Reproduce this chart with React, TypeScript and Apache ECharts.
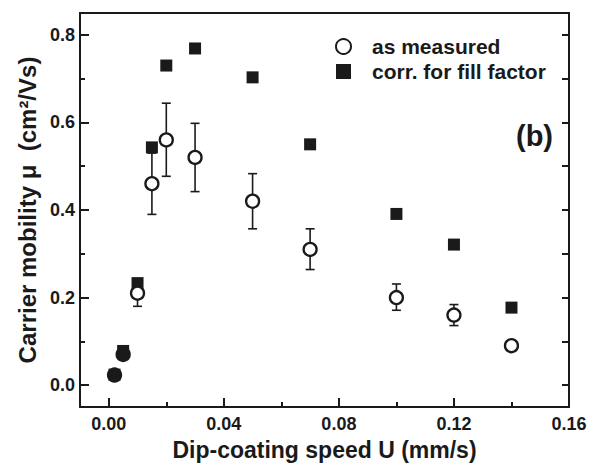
import React, { useEffect, useRef } from "react";
import * as echarts from "echarts";

const speeds = [0.002, 0.005, 0.01, 0.015, 0.02, 0.03, 0.05, 0.07, 0.1, 0.12, 0.14];
const measured = [0.023, 0.07, 0.21, 0.46, 0.56, 0.52, 0.42, 0.31, 0.2, 0.16, 0.09];
const errLow = [null, null, 0.18, 0.39, 0.477, 0.442, 0.357, 0.264, 0.171, 0.136, null];
const errHigh = [null, null, 0.24, 0.53, 0.644, 0.598, 0.483, 0.357, 0.231, 0.184, null];
const corrected = [0.024, 0.078, 0.233, 0.543, 0.73, 0.769, 0.703, 0.55, 0.391, 0.321, 0.177];
const filledMeasured = [true, true, false, false, false, false, false, false, false, false, false];

const xMajor = [0, 0.04, 0.08, 0.12, 0.16];
const xMinor = [0.02, 0.06, 0.1, 0.14];
const yMajor = [0, 0.2, 0.4, 0.6, 0.8];
const yMinor = [0.1, 0.3, 0.5, 0.7];
const yAll = [0, 0.1, 0.2, 0.3, 0.4, 0.5, 0.6, 0.7, 0.8];

const FONT = "'Liberation Sans', Arial, Helvetica, sans-serif";
const INK = "#1a1a1a";

export default function App() {
  const ref = useRef<HTMLDivElement>(null);
  useEffect(() => {
    if (!ref.current) return;
    const chart = echarts.init(ref.current, null, { renderer: "svg" });
    const xMin = -0.01, xMax = 0.16, yMin = -0.05, yMax = 0.85;
    const base = { min: xMin, max: xMax, type: "value" as const, splitLine: { show: false } };
    const ybase = { min: yMin, max: yMax, type: "value" as const, splitLine: { show: false } };
    const errData = speeds
      .map((x, i) => [x, errLow[i], errHigh[i]])
      .filter((d) => d[1] != null);
    chart.setOption({
      animation: false,
      backgroundColor: "#fff",
      grid: { left: 80, top: 13, right: 22, bottom: 59 },
      xAxis: [
        {
          ...base,
          position: "bottom",
          name: "Dip-coating speed U (mm/s)",
          nameLocation: "middle",
          nameGap: 31,
          nameTextStyle: { fontFamily: FONT, fontWeight: "bold", fontSize: 23, color: INK },
          axisLine: { show: true, onZero: false, lineStyle: { color: INK, width: 2 } },
          axisTick: { show: true, inside: true, length: 9, customValues: xMajor, lineStyle: { color: INK, width: 2 } },
          axisLabel: {
            show: true,
            customValues: xMajor,
            margin: 8,
            formatter: (v: number) => v.toFixed(2),
            fontFamily: FONT,
            fontWeight: "bold",
            fontSize: 18,
            color: INK,
          },
        },
        {
          ...base,
          position: "bottom",
          axisLine: { show: false, onZero: false },
          axisTick: { show: true, inside: true, length: 5, customValues: xMinor, lineStyle: { color: INK, width: 2 } },
          axisLabel: { show: false },
        },
        {
          ...base,
          position: "top",
          axisLine: { show: true, onZero: false, lineStyle: { color: INK, width: 2 } },
          axisTick: { show: false },
          axisLabel: { show: false },
        },
      ],
      yAxis: [
        {
          ...ybase,
          position: "left",
          name: "Carrier mobility μ  (cm²/Vs)",
          nameLocation: "middle",
          nameGap: 40,
          nameTextStyle: { fontFamily: FONT, fontWeight: "bold", fontSize: 24, color: INK },
          axisLine: { show: true, onZero: false, lineStyle: { color: INK, width: 2 } },
          axisTick: { show: true, inside: true, length: 9, customValues: yMajor, lineStyle: { color: INK, width: 2 } },
          axisLabel: {
            show: true,
            customValues: yMajor,
            margin: 5,
            formatter: (v: number) => v.toFixed(1),
            fontFamily: FONT,
            fontWeight: "bold",
            fontSize: 18,
            color: INK,
          },
        },
        {
          ...ybase,
          position: "left",
          axisLine: { show: false, onZero: false },
          axisTick: { show: true, inside: true, length: 5, customValues: yMinor, lineStyle: { color: INK, width: 2 } },
          axisLabel: { show: false },
        },
        {
          ...ybase,
          position: "right",
          axisLine: { show: true, onZero: false, lineStyle: { color: INK, width: 2 } },
          axisTick: { show: true, inside: true, length: 7, customValues: yAll, lineStyle: { color: INK, width: 2 } },
          axisLabel: { show: false },
        },
      ],
      legend: {
        orient: "vertical",
        left: 330,
        top: 31,
        itemWidth: 15,
        itemHeight: 15,
        itemGap: 4,
        textStyle: { fontFamily: FONT, fontWeight: "bold", fontSize: 21, color: INK, padding: [0, 0, 0, 16] },
        data: ["as measured", "corr. for fill factor"],
      },
      graphic: [
        {
          type: "text",
          right: 38,
          top: 121,
          style: { text: "(b)", font: `bold 29px ${FONT}`, fill: INK },
        },
      ],
      series: [
        {
          type: "custom",
          name: "err",
          xAxisIndex: 0,
          yAxisIndex: 0,
          z: 1,
          data: errData,
          renderItem: (params: any, api: any) => {
            const x = api.value(0);
            const lo = api.coord([x, api.value(1)]);
            const hi = api.coord([x, api.value(2)]);
            const w = 4.5;
            const style = { stroke: INK, lineWidth: 1.6 };
            return {
              type: "group",
              children: [
                { type: "line", shape: { x1: lo[0], y1: lo[1], x2: hi[0], y2: hi[1] }, style },
                { type: "line", shape: { x1: lo[0] - w, y1: lo[1], x2: lo[0] + w, y2: lo[1] }, style },
                { type: "line", shape: { x1: hi[0] - w, y1: hi[1], x2: hi[0] + w, y2: hi[1] }, style },
              ],
            };
          },
        },
        {
          type: "scatter",
          name: "corr. for fill factor",
          xAxisIndex: 0,
          yAxisIndex: 0,
          z: 2,
          symbol: "rect",
          symbolSize: 12,
          itemStyle: { color: INK, opacity: 1 },
          data: speeds.map((x, i) => [x, corrected[i]]),
        },
        {
          type: "scatter",
          name: "as measured",
          xAxisIndex: 0,
          yAxisIndex: 0,
          z: 3,
          symbol: "circle",
          symbolSize: 13,
          itemStyle: { color: "#fff", borderColor: INK, borderWidth: 2.3, opacity: 1 },
          data: speeds.map((x, i) => ({
            value: [x, measured[i]],
            itemStyle: filledMeasured[i] ? { color: INK, borderColor: INK } : undefined,
          })),
        },
      ],
    });
    return () => chart.dispose();
  }, []);
  return <div ref={ref} style={{ width: 591, height: 466, position: "absolute", left: 0, top: 0 }} />;
}
